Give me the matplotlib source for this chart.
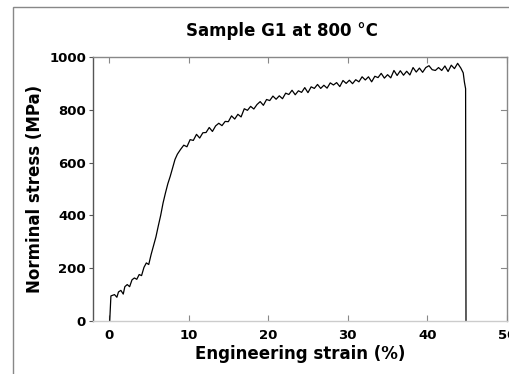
import matplotlib.pyplot as plt
from matplotlib.patches import Rectangle

# Daten (Dehnung in %, Spannung in MPa)
strain = [0.1, 0.25, 0.7, 1.0, 1.2, 1.5, 1.8, 2.0, 2.3, 2.6, 2.9, 3.2, 3.5, 3.8,
          4.1, 4.4, 4.7, 5.0, 5.3, 5.6, 5.9, 6.2, 6.5, 6.8, 7.1, 7.4, 7.7, 8.0,
          8.3, 8.6,
          9.0, 9.4, 9.8, 10.2, 10.6, 11.0, 11.4, 11.8, 12.2, 12.6, 13.0, 13.4,
          13.8, 14.2, 14.6, 15.0, 15.4, 15.8, 16.2, 16.6, 17.0, 17.4, 17.8,
          18.2, 18.6, 19.0, 19.4, 19.8, 20.2, 20.6, 21.0, 21.4, 21.8, 22.2,
          22.6, 23.0, 23.4, 23.8, 24.2, 24.6, 25.0, 25.4, 25.8, 26.2, 26.6,
          27.0, 27.4, 27.8, 28.2, 28.6, 29.0, 29.4, 29.8, 30.2, 30.6, 31.0,
          31.4, 31.8, 32.2, 32.6, 33.0, 33.4, 33.8, 34.2, 34.6, 35.0, 35.4,
          35.8, 36.2, 36.6, 37.0, 37.4, 37.8, 38.2, 38.6, 39.0, 39.4, 39.8,
          40.2, 40.6, 41.0, 41.4, 41.8, 42.2, 42.6, 43.0, 43.4, 43.8, 44.2,
          44.5, 44.65, 44.8, 44.85]
stress = [0, 95, 100, 90, 110, 116, 102, 130, 138, 130, 156, 163, 158, 176,
          172, 203, 220, 214, 252, 285, 318, 360, 400, 447, 485, 520, 548, 580,
          612, 632,
          650, 666, 660, 687, 684, 707, 693, 713, 714, 733, 718, 739,
          749, 740, 756, 755, 777, 765, 783, 773, 804, 798, 813,
          803, 820, 831, 817, 839, 835, 852, 840, 853, 842, 863,
          858, 874, 857, 872, 866, 884, 865, 887, 881, 896, 881,
          893, 882, 902, 894, 903, 888, 911, 900, 912, 899, 914,
          906, 925, 913, 925, 906, 927, 922, 938, 920, 933, 921,
          949, 930, 948, 931, 946, 932, 960, 943, 958, 942, 960,
          967, 952, 949, 960, 949, 966, 945, 969, 956, 976, 958,
          940, 905, 880, 0]

x_ticks = [0, 10, 20, 30, 40, 50]
y_ticks = [0, 200, 400, 600, 800, 1000]


def main():
    fig = plt.figure(figsize=(5.09, 3.74), dpi=100)
    ax = fig.add_axes([93 / 509, 1 - 321 / 374, 414 / 509, 264 / 374])

    ax.plot(strain, stress, color='black', linewidth=0.9)

    ax.set_xlim(-2, 50)
    ax.set_ylim(0, 1000)
    ax.set_xticks(x_ticks)
    ax.set_yticks(y_ticks)
    ax.tick_params(axis='x', direction='in', top=True, length=4, color='#888888',
                   labelsize=9.5, pad=6)
    ax.tick_params(axis='y', direction='out', right=False, length=3, color='#555555',
                   labelsize=9.5, pad=2)
    for lab in ax.get_xticklabels() + ax.get_yticklabels():
        lab.set_fontweight('bold')

    # Ticks auf der rechten Seite nach innen
    for y in y_ticks[1:]:
        ax.plot([49.3, 50], [y, y], color='#888888', linewidth=0.8, clip_on=False)

    ax.spines['left'].set_color('#555555')
    ax.spines['bottom'].set_color('#cccccc')
    ax.spines['top'].set_color('#888888')
    ax.spines['right'].set_color('#888888')
    for s in ax.spines.values():
        s.set_linewidth(1.0)

    ax.set_xlabel('Engineering strain (%)', fontsize=12, fontweight='bold', labelpad=2)
    ax.set_ylabel('Norminal stress (MPa)', fontsize=12, fontweight='bold', labelpad=4)
    fig.text(282 / 509, 1 - 31 / 374, 'Sample G1 at 800 °C', fontsize=12,
             fontweight='bold', ha='center', va='center')

    # grauer Rahmen um die Abbildung
    fig.patches.append(Rectangle((13 / 509, -0.1), 1.2, 1.1 - 7 / 374,
                                 transform=fig.transFigure, fill=False,
                                 edgecolor='#888888', linewidth=1.0))

    fig.savefig('out.png', dpi=100)


if __name__ == "__main__":
    main()
